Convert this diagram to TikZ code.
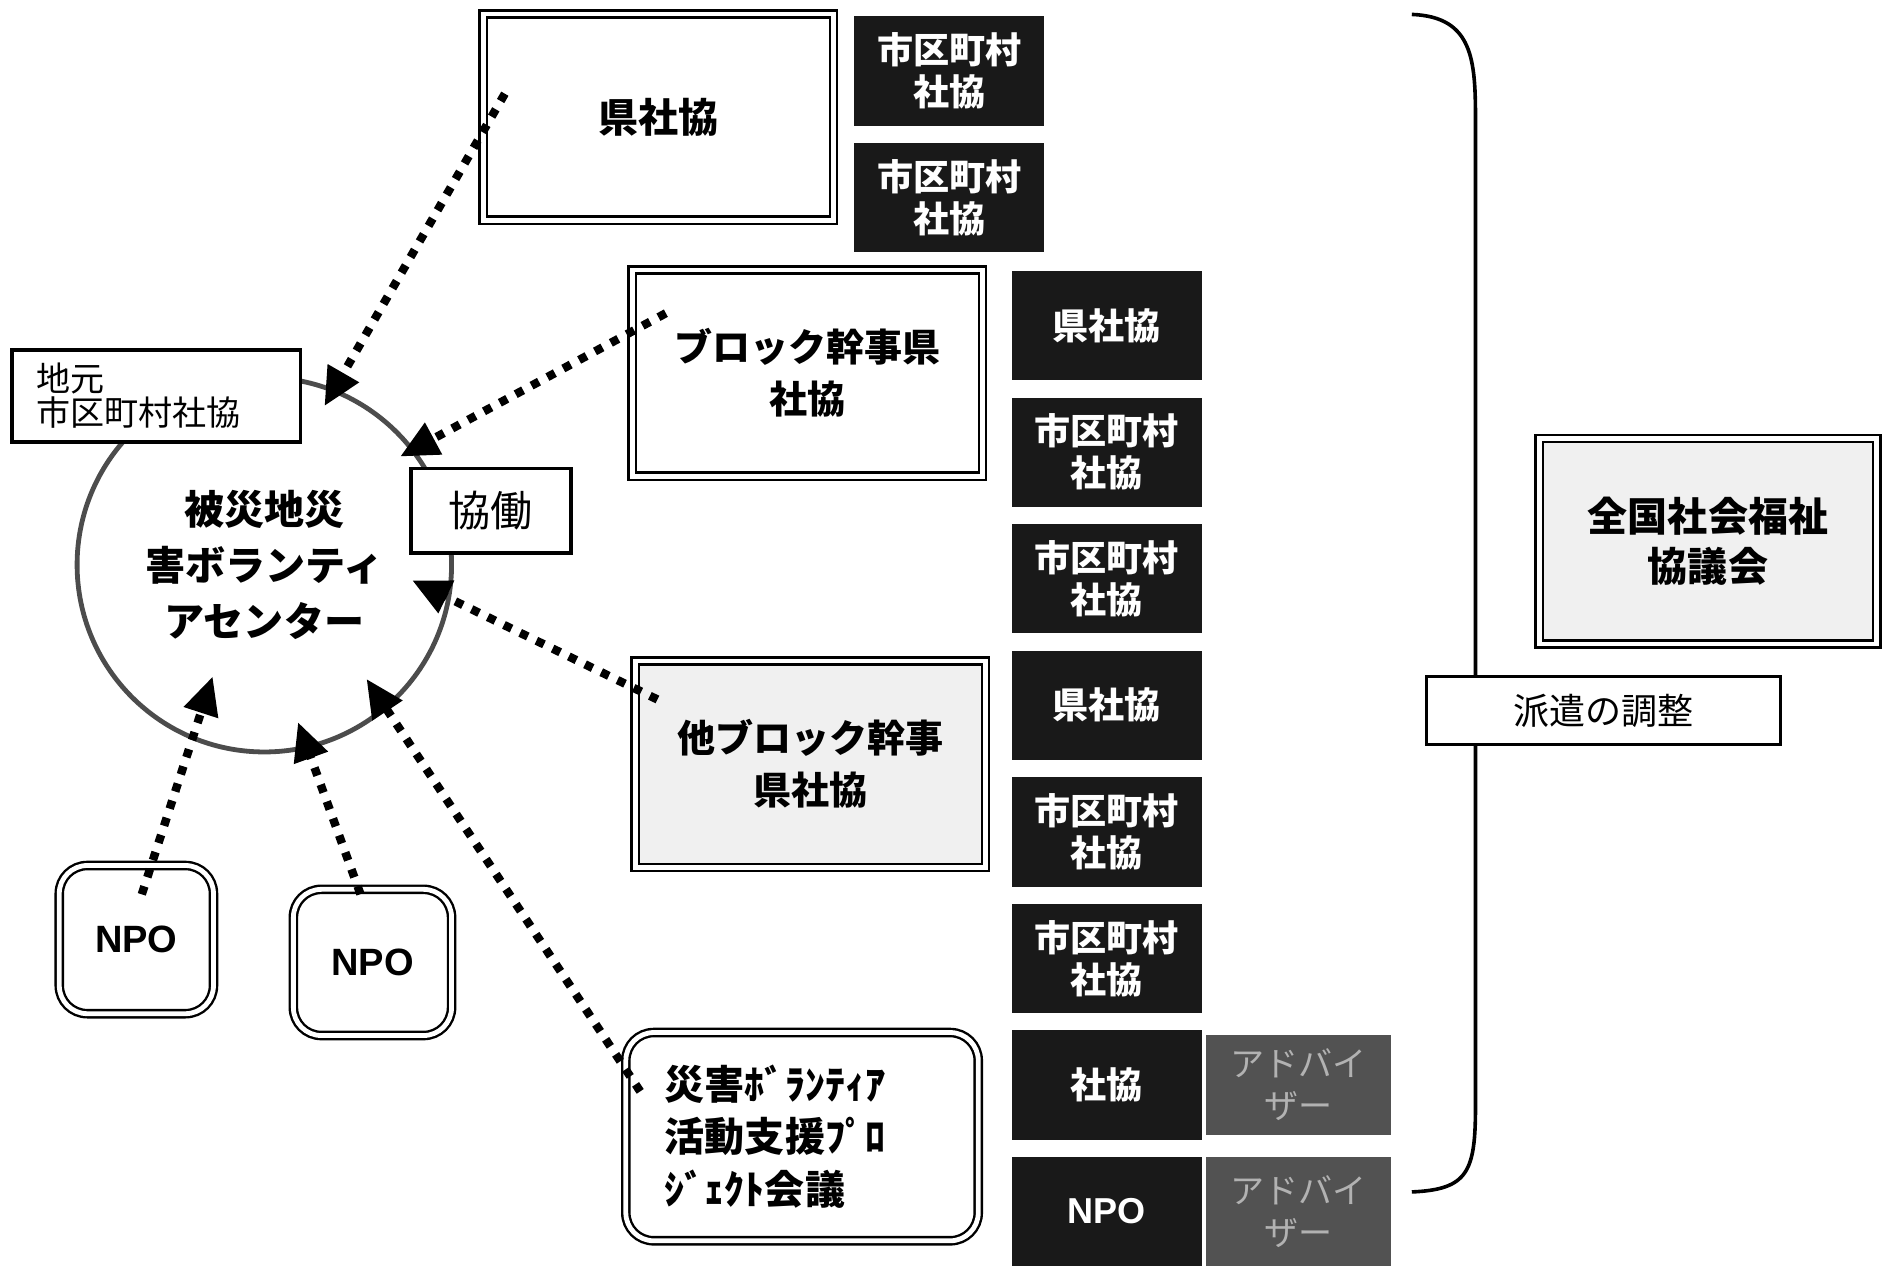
\documentclass[tikz,border=0pt]{standalone}
\usepackage{fontspec}
\setmainfont{Noto Sans CJK JP}
\newfontfamily\npofont{Liberation Sans}
\usetikzlibrary{arrows.meta,positioning}

\begin{document}
\begin{tikzpicture}[x=0.6pt, y=-0.6pt, node distance=63.2pt,
  wbox/.style={draw, double, line width=1.2pt, double distance=2.4pt,
    minimum width=175pt, minimum height=103pt, align=center,
    font=\bfseries\fontsize{19pt}{26pt}\selectfont},
  rbox/.style={wbox, rounded corners=14pt},
  dark/.style={fill=black!90, text=white, minimum width=95pt,
    minimum height=54.6pt, inner sep=0pt, align=center,
    font=\bfseries\fontsize{18pt}{21pt}\selectfont},
  adv/.style={fill=black!68, text=black!30, minimum width=92.4pt,
    minimum height=50pt, inner sep=0pt, align=center,
    font=\fontsize{17pt}{21pt}\selectfont},
  sbox/.style={draw, fill=white, line width=1.8pt, align=center},
  dotline/.style={line width=4.2pt, dash pattern=on 4.2pt off 4.8pt,
    -{Triangle[length=19pt,width=17pt]}}]

  \useasboundingbox (0,0) rectangle (1568,1054.5);

  % bracket
  \draw[line width=1.8pt] (1175,12) .. controls (1226,14) and (1228,50) .. (1228,100)
    -- (1228,920) .. controls (1228,975) and (1222,990) .. (1175,992);

  \node[draw=black!70, line width=2.4pt, circle, minimum size=187pt, align=center,
        font=\bfseries\fontsize{20pt}{28pt}\selectfont] (vc) at (220,470)
        {被災地災\\害ボランティ\\アセンター};

  \node[wbox, font=\bfseries\fontsize{20pt}{26pt}\selectfont]
                            (ken)  at (548,97.5)  {県社協};
  \node[wbox]               (blk)  at (672,310.5) {ブロック幹事県\\社協};
  \node[wbox, fill=black!6] (oblk) at (674.5,636) {他ブロック幹事\\県社協};
  \node[rbox, minimum width=176pt, minimum height=104pt, text width=137pt,
        align=left, font=\bfseries\fontsize{20pt}{26pt}\selectfont]
                            (proj) at (667.5,946) {災害ﾎﾞﾗﾝﾃｨｱ\\活動支援ﾌﾟﾛ\\ｼﾞｪｸﾄ会議};

  \node[dark] (d1) at (790,59)   {市区町村\\社協};
  \node[dark] (d2) [below of=d1] {市区町村\\社協};

  \node[dark] (e1) at (921,271)  {県社協};
  \node[dark] (e2) [below of=e1] {市区町村\\社協};
  \node[dark] (e3) [below of=e2] {市区町村\\社協};
  \node[dark] (e4) [below of=e3] {県社協};
  \node[dark] (e5) [below of=e4] {市区町村\\社協};
  \node[dark] (e6) [below of=e5] {市区町村\\社協};
  \node[dark] (e7) [below of=e6] {社協};
  \node[dark] (e8) [below of=e7] {\npofont\bfseries NPO};

  \node[adv]                      (a1) [node distance=96pt, right of=e7] {アドバイ\\ザー};
  \node[adv, minimum height=54.6pt] (a2) [node distance=96pt, right of=e8] {アドバイ\\ザー};

  \node[sbox, minimum width=144pt, minimum height=46pt, text width=120pt, align=left,
        font=\fontsize{17pt}{17pt}\selectfont] (jimoto) at (130,329.5) {地元\\市区町村社協};
  \node[sbox, minimum width=80pt, minimum height=42pt,
        font=\fontsize{21pt}{21pt}\selectfont] (kyodo) at (408.5,425) {協働};

  \node[rbox, minimum width=77pt, minimum height=74pt,
        font=\npofont\bfseries\fontsize{19pt}{19pt}\selectfont] (npo1) at (113.5,782) {NPO};
  \node[rbox, minimum width=79pt, minimum height=73pt,
        font=\npofont\bfseries\fontsize{19pt}{19pt}\selectfont] (npo2) at (310,801) {NPO};

  \node[sbox, line width=1.5pt, minimum width=177pt, minimum height=34pt,
        font=\fontsize{18pt}{18pt}\selectfont] (haken) at (1334.5,591.5) {派遣の調整};
  \node[wbox, fill=black!6, minimum width=168.6pt, minimum height=102.6pt,
        font=\bfseries\fontsize{20pt}{25pt}\selectfont] (zenkoku) at (1421.5,450.5) {全国社会福祉\\協議会};

  % ends of the dotted lines
  \coordinate (t1) at (270,338);
  \coordinate (t2) at (333,380);
  \coordinate (t3) at (343,483);
  \coordinate (t4) at (305,565);
  \coordinate (t5) at (177,563);
  \coordinate (t6) at (248,601);
  \coordinate (s1) at ([shift={(19,-19.5)}]ken.west);
  \coordinate (s2) at ([shift={(29,37)}]blk.north west);
  \coordinate (s3) at ([shift={(19.5,33)}]oblk.north west);
  \coordinate (s4) at ([shift={(13,50)}]proj.north west);
  \coordinate (s5) at ([shift={(4.5,25)}]npo1.north);
  \coordinate (s6) at ([shift={(-10,5)}]npo2.north);

  \path (s1) edge[dotline] (t1)
        (s2) edge[dotline] (t2)
        (s3) edge[dotline] (t3)
        (s4) edge[dotline] (t4)
        (s5) edge[dotline] (t5)
        (s6) edge[dotline] (t6);
\end{tikzpicture}
\end{document}
